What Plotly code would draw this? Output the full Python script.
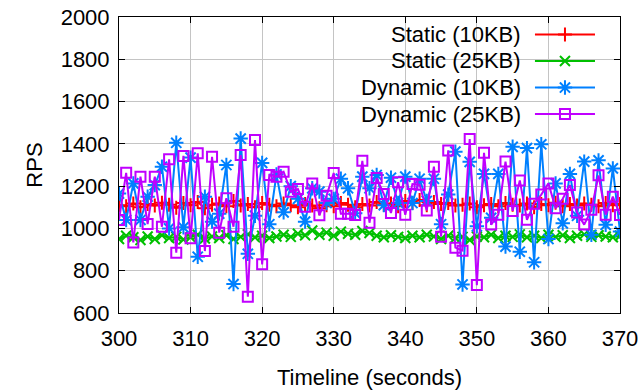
import plotly.graph_objects as go

# ---- data ----
times = list(range(300, 371))

static_10kb = [1110, 1105, 1118, 1100, 1115, 1108, 1122, 1112, 1098, 1120,
               1110, 1125, 1095, 1112, 1118, 1105, 1130, 1108, 1115, 1100,
               1120, 1112, 1105, 1118, 1110, 1100, 1115, 1108, 1095, 1110,
               1105, 1120, 1112, 1100, 1115, 1108, 1125, 1112, 1118, 1105,
               1130, 1120, 1135, 1110, 1125, 1115, 1120, 1108, 1112, 1118,
               1100, 1110, 1115, 1105, 1120, 1112, 1108, 1118, 1100, 1115,
               1110, 1122, 1105, 1115, 1108, 1118, 1112, 1105, 1120, 1110,
               1115]

static_25kb = [950, 965, 958, 945, 962, 950, 968, 955, 960, 948,
               958, 970, 952, 962, 955, 968, 950, 960, 972, 958,
               965, 955, 962, 970, 960, 975, 968, 990, 970, 980,
               965, 985, 975, 970, 988, 978, 965, 958, 968, 960,
               955, 965, 958, 970, 962, 950, 965, 955, 960, 945,
               962, 958, 970, 955, 965, 960, 972, 958, 965, 955,
               970, 960, 968, 955, 965, 972, 960, 968, 962, 958,
               965]

dynamic_10kb = [1165, 1040, 1213, 1040, 1150, 1205, 1292, 1000, 1405, 1005,
                1335, 866, 1150, 1032, 1070, 1300, 737, 1425, 880, 1060,
                1310, 1020, 1255, 1076, 1200, 1140, 1032, 1190, 1174, 1120,
                1140, 1235, 1190, 1072, 1245, 1190, 1253, 1110, 1240, 1120,
                1245, 1120, 1235, 1130, 1235, 1020, 1160, 1363, 735, 1315,
                1010, 1258, 1050, 1258, 914, 1386, 890, 1380, 840, 1398,
                950, 1213, 1024, 1258, 1060, 1316, 970, 1322, 1017, 1284,
                985]

dynamic_25kb = [1040, 1263, 934, 1245, 1021, 1245, 1008, 1327, 885, 1343,
                953, 1355, 893, 1339, 980, 1143, 1008, 1347, 677, 1418,
                830, 1253, 1245, 1268, 1174, 1186, 1103, 1213, 1062, 1155,
                1262, 1070, 1070, 1064, 1320, 1027, 1238, 1163, 1073, 1218,
                1065, 1210, 1207, 1085, 1292, 961, 1369, 909, 895, 1423,
                732, 1358, 1018, 1065, 1316, 1083, 1227, 1041, 1117, 1160,
                1213, 1096, 1140, 1205, 1075, 1018, 1088, 1251, 1065, 1150,
                1064]

series_names = ["Static (10KB)", "Static (25KB)", "Dynamic (10KB)", "Dynamic (25KB)"]
series_values = [static_10kb, static_25kb, dynamic_10kb, dynamic_25kb]
colors = ["#ff0000", "#00c000", "#0080ff", "#c000ff"]
symbols = ["cross-thin", "x-thin", "asterisk", "square-open"]
msizes = [10, 10, 12, 10]

x_ticks = [300, 310, 320, 330, 340, 350, 360, 370]
y_ticks = [600, 800, 1000, 1200, 1400, 1600, 1800, 2000]

FONT = "Liberation Sans"
FS = 22

fig = go.Figure()

for name, vals, col, sym, ms in zip(series_names, series_values, colors, symbols, msizes):
    fig.add_trace(go.Scatter(
        x=times, y=vals, mode="lines+markers", name=name,
        line=dict(color=col, width=2),
        marker=dict(symbol=sym, size=ms, color=col, line=dict(color=col, width=2)),
        showlegend=False,
    ))

# custom gnuplot-style key (text, then sample) drawn on an overlay pixel-space axis
key_rows = [35, 61.5, 88, 114.5]
annotations = []
for name, col, sym, ms, ry in zip(series_names, colors, symbols, msizes, key_rows):
    fig.add_trace(go.Scatter(
        x=[535, 595], y=[ry, ry], mode="lines", xaxis="x2", yaxis="y2",
        line=dict(color=col, width=2), showlegend=False, hoverinfo="skip"))
    fig.add_trace(go.Scatter(
        x=[565], y=[ry], mode="markers", xaxis="x2", yaxis="y2",
        marker=dict(symbol=sym, size=ms, color=col, line=dict(color=col, width=2)),
        showlegend=False, hoverinfo="skip"))
    annotations.append(dict(
        x=523, y=ry, xref="x2", yref="y2", text=name, showarrow=False,
        xanchor="right", yanchor="middle", font=dict(family=FONT, size=FS, color="black")))

axis_common = dict(
    ticks="inside", ticklen=6, tickcolor="black", tickwidth=1,
    showline=True, linecolor="black", linewidth=1, mirror="allticks",
    showgrid=True, gridcolor="#c4c4c4", gridwidth=1, zeroline=False,
    automargin=False,
    tickfont=dict(family=FONT, size=FS, color="black"),
)

fig.update_layout(
    width=641, height=392,
    margin=dict(l=119, r=21, t=17, b=79),
    paper_bgcolor="white", plot_bgcolor="white",
    font=dict(family=FONT, size=FS, color="black"),
    showlegend=False,
    xaxis=dict(range=[300, 370], tickvals=x_ticks, ticktext=[str(v) for v in x_ticks],
               title=dict(text="Timeline (seconds)", standoff=19, font=dict(family=FONT, size=FS)),
               ticklabelstandoff=6,
               **axis_common),
    yaxis=dict(range=[600, 2000], tickvals=y_ticks, ticktext=[str(v) for v in y_ticks],
               title=dict(text="RPS", standoff=11, font=dict(family=FONT, size=FS)),
               ticklabelstandoff=4,
               **axis_common),
    xaxis2=dict(overlaying="x", range=[119.3, 620], visible=False, fixedrange=True),
    yaxis2=dict(overlaying="y", range=[313, 17.6], visible=False, fixedrange=True),
    annotations=annotations,
)

fig.write_html(
    "out.html",
    config={"displayModeBar": False, "staticPlot": True},
    post_script="document.body.style.margin='0';document.body.style.padding='0';"
                "document.documentElement.style.overflow='hidden';",
)
